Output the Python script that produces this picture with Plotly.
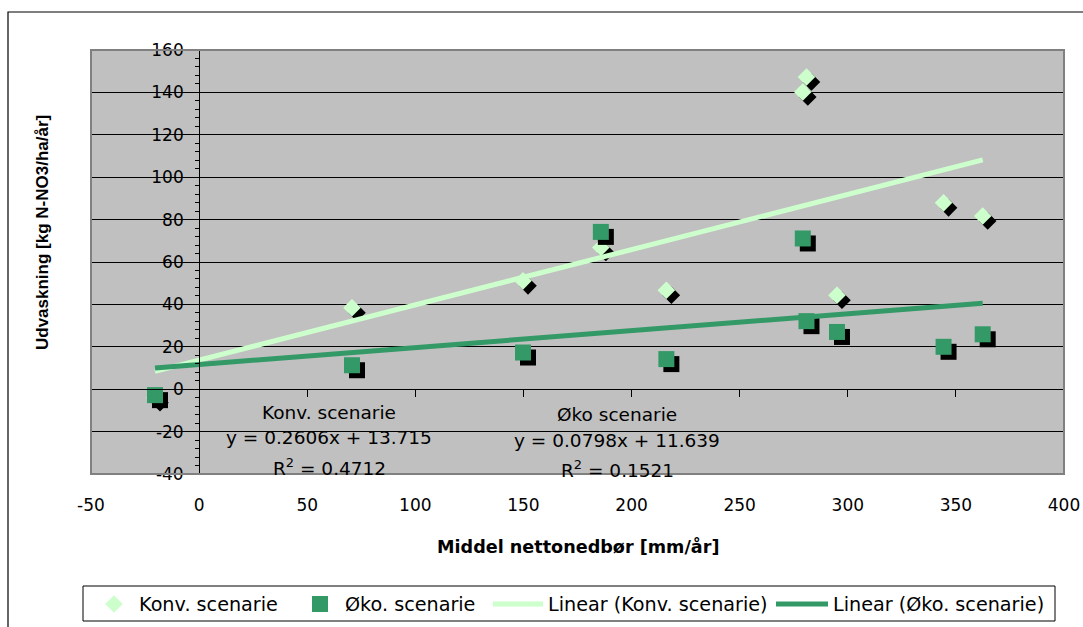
import numpy as np
import plotly.graph_objects as go

# Mean net precipitation per site [mm/år] (shared by both scenarios)
precip = [-20.4, 70.7, 149.8, 185.8, 216.1, 279.2, 280.9, 295.0, 344.3, 362.4]
# Nitrate leaching [kg N-NO3/ha/år]
leach_konv = [-4.0, 38.4, 51.1, 66.8, 46.7, 140.2, 147.3, 44.3, 87.9, 81.7]
leach_oeko = [-2.8, 11.3, 17.3, 74.2, 14.2, 71.1, 32.1, 27.0, 20.0, 25.9]

# Linear trend coefficients
konv_slope, konv_intercept, konv_r2 = 0.2606, 13.715, 0.4712
oeko_slope, oeko_intercept, oeko_r2 = 0.0798, 11.639, 0.1521

x_ticks = [-50, 0, 50, 100, 150, 200, 250, 300, 350, 400]
y_ticks = [-40, -20, 0, 20, 40, 60, 80, 100, 120, 140, 160]

W, H = 1083, 627
ML, MR, MT, MB = 91, 19, 50, 153
PW, PH = W - ML - MR, H - MT - MB
XR = [-50, 400]
YR = [-40, 160]

LIGHT = "#CCFFCC"
DARK = "#339966"
FONT = "DejaVu Sans, sans-serif"
TITLE_FONT = "Liberation Sans, Arial, sans-serif"

# drop shadow offset: 5 px right and 5 px down, in data units
sdx = 5 * (XR[1] - XR[0]) / PW
sdy = -5 * (YR[1] - YR[0]) / PH


def px_x(p):
    return (p - ML) / PW


def px_y(p):
    return (H - MB - p) / PH


def tick_text(values):
    return [str(v) for v in values]


xs = np.array(precip)
trend_x = np.array([xs.min(), xs.max()])

fig = go.Figure()

# Konv. scenarie: shadow + diamonds
fig.add_trace(go.Scatter(
    x=xs + sdx, y=np.array(leach_konv) + sdy, mode="markers",
    marker=dict(symbol="diamond", size=13.5, color="black"),
    showlegend=False, hoverinfo="skip"))
fig.add_trace(go.Scatter(
    x=xs, y=leach_konv, mode="markers", name="Konv. scenarie",
    marker=dict(symbol="diamond", size=13.5, color=LIGHT), legend="legend"))

# Øko. scenarie: shadow + squares
fig.add_trace(go.Scatter(
    x=xs + sdx, y=np.array(leach_oeko) + sdy, mode="markers",
    marker=dict(symbol="square", size=16, color="black"),
    showlegend=False, hoverinfo="skip"))
fig.add_trace(go.Scatter(
    x=xs, y=leach_oeko, mode="markers", name="Øko. scenarie",
    marker=dict(symbol="square", size=16, color=DARK), legend="legend2"))

# Linear trend lines
fig.add_trace(go.Scatter(
    x=trend_x, y=konv_slope * trend_x + konv_intercept, mode="lines",
    name="Linear (Konv. scenarie)", line=dict(color=LIGHT, width=5),
    legend="legend3"))
fig.add_trace(go.Scatter(
    x=trend_x, y=oeko_slope * trend_x + oeko_intercept, mode="lines",
    name="Linear (Øko. scenarie)", line=dict(color=DARK, width=5),
    legend="legend4"))

# empty traces so the crossing axes are drawn
fig.add_trace(go.Scatter(x=[], y=[], xaxis="x", yaxis="y2", showlegend=False))
fig.add_trace(go.Scatter(x=[], y=[], xaxis="x2", yaxis="y", showlegend=False))

y0_frac = (0 - YR[0]) / (YR[1] - YR[0])
x0_frac = (0 - XR[0]) / (XR[1] - XR[0])

leg_common = dict(orientation="h", bgcolor="rgba(0,0,0,0)", borderwidth=0,
                  font=dict(family=FONT, size=19.2, color="black"),
                  yanchor="middle", y=px_y(604), xanchor="left")

fig.update_layout(
    width=W, height=H,
    margin=dict(l=ML, r=MR, t=MT, b=MB, autoexpand=False),
    paper_bgcolor="white", plot_bgcolor="#C0C0C0",
    font=dict(family=FONT, color="black"),
    xaxis=dict(range=XR, tickvals=x_ticks, ticktext=tick_text(x_ticks),
               showgrid=False, zeroline=False, showline=False, ticks="",
               tickfont=dict(size=17), ticklabelstandoff=19),
    xaxis2=dict(range=XR, overlaying="x", anchor="free", position=y0_frac,
                tickvals=x_ticks, ticks="outside", ticklen=7, tickwidth=1,
                tickcolor="black", showline=True, linecolor="black",
                linewidth=1, showgrid=False, zeroline=False,
                showticklabels=False),
    yaxis=dict(range=YR, tickvals=y_ticks, showgrid=True, gridcolor="black",
               gridwidth=1, zeroline=False, showline=False, ticks="",
               showticklabels=False),
    yaxis2=dict(range=YR, overlaying="y", anchor="free", position=x0_frac,
                tickvals=y_ticks, ticktext=tick_text(y_ticks),
                ticks="outside", ticklen=7, tickwidth=1,
                tickcolor="black", showline=True, linecolor="black",
                linewidth=1, showgrid=False, zeroline=False,
                tickfont=dict(size=17), ticklabelstandoff=5,
                minor=dict(dtick=4, tick0=0, ticks="outside", ticklen=4,
                           tickcolor="black", showgrid=False)),
    legend=dict(**leg_common, x=px_x(89), itemwidth=40),
    legend2=dict(**leg_common, x=px_x(295), itemwidth=40),
    legend3=dict(**leg_common, x=px_x(488), itemwidth=50),
    legend4=dict(**leg_common, x=px_x(771), itemwidth=52),
    showlegend=True,
)

shapes = [
    # chart area border
    dict(type="rect", xref="paper", yref="paper", x0=px_x(8), x1=1.2,
         y0=-0.6, y1=px_y(12), line=dict(color="black", width=1.2),
         layer="above"),
    # plot area border
    dict(type="rect", xref="paper", yref="paper", x0=0, x1=1, y0=0, y1=1,
         line=dict(color="#808080", width=2), layer="above"),
    # legend box
    dict(type="rect", xref="paper", yref="paper", x0=px_x(83), x1=px_x(1055),
         y0=px_y(621), y1=px_y(586), fillcolor="white",
         line=dict(color="black", width=1), layer="above"),
]
fig.update_layout(shapes=shapes)

ann_font = dict(family=FONT, size=18.5, color="black")
annotations = [
    dict(text="Udvaskning [kg N-NO3/ha/år]", textangle=-90, xref="paper",
         yref="paper", x=px_x(42), y=px_y(233), xanchor="center",
         yanchor="middle", showarrow=False,
         font=dict(family=TITLE_FONT, size=17, color="black", weight="bold")),
    dict(text="Middel nettonedbør [mm/år]", xref="paper", yref="paper",
         x=0.5, y=px_y(546), xanchor="center", yanchor="middle",
         showarrow=False,
         font=dict(family=FONT, size=17.6, color="black", weight="bold")),
    dict(text="Konv. scenarie", x=60.1, y=-10.8),
    dict(text=f"y = {konv_slope}x + {konv_intercept}", x=60.1, y=-23.0),
    dict(text=f"R<sup>2</sup> = {konv_r2}", x=60.1, y=-36.5),
    dict(text="Øko scenarie", x=193.3, y=-11.7),
    dict(text=f"y = {oeko_slope}x + {oeko_intercept}", x=193.3, y=-24.4),
    dict(text=f"R<sup>2</sup> = {oeko_r2}", x=193.3, y=-37.5),
]
for a in annotations[2:]:
    a.update(xref="x", yref="y", xanchor="center", yanchor="middle",
             showarrow=False, font=ann_font)
fig.update_layout(annotations=annotations)

fig.write_html("out.html")
